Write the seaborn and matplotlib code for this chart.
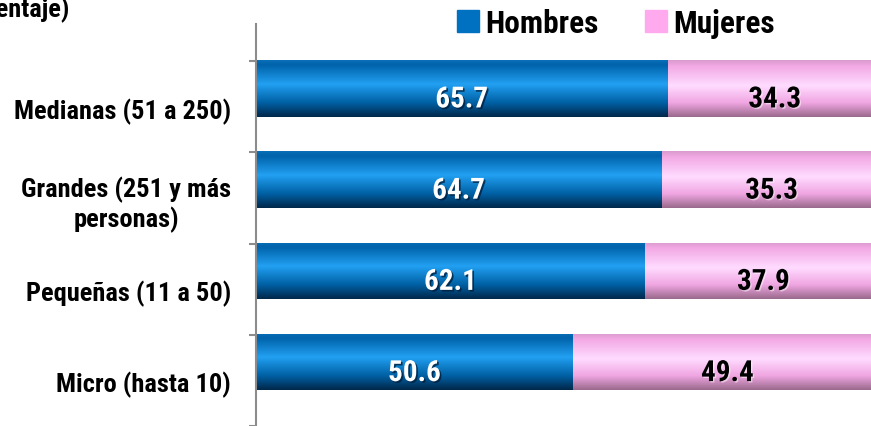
import numpy as np
import pandas as pd
import matplotlib
matplotlib.use("Agg")
import matplotlib.pyplot as plt
import matplotlib.patheffects as pe
from matplotlib.colors import LinearSegmentedColormap
from matplotlib.patches import Rectangle
import seaborn as sns

CATEGORIES = ["Medianas (51 a 250)", "Grandes (251 y más\npersonas)",
              "Pequeñas (11 a 50)", "Micro (hasta 10)"]
HOMBRES = [65.7, 64.7, 62.1, 50.6]
MUJERES = [34.3, 35.3, 37.9, 49.4]
SERIES = ["Hombres", "Mujeres"]

BLUE = "#0070C0"
PINK = "#FFAAEE"

sns.set_theme(style="white")
plt.rcParams["font.family"] = ["Roboto Condensed", "DejaVu Sans"]
plt.rcParams["text.color"] = "black"
plt.rcParams["ytick.color"] = "black"
plt.rcParams["ytick.labelcolor"] = "black"

df = pd.DataFrame({"cat": CATEGORIES, "h": HOMBRES, "m": MUJERES})
df["total"] = df["h"] + df["m"]

fig = plt.figure(figsize=(8.71, 4.27), dpi=100)
ax = fig.add_axes([256 / 871, 0, 615 / 871, 402 / 427])

# stacked: full length in pink, then men on top in blue
sns.barplot(data=df, y="cat", x="total", color=PINK, orient="h",
            width=0.62, saturation=1, ax=ax)
n_pink = len(ax.patches)
sns.barplot(data=df, y="cat", x="h", color=BLUE, orient="h",
            width=0.62, saturation=1, ax=ax)

# glossy gradient fill on each bar
blue_cm = LinearSegmentedColormap.from_list(
    "b", [(0, "#0a6fb8"), (0.08, "#0062aa"), (0.42, "#22a0f2"),
          (0.75, "#0060a4"), (1, "#00284a")])
pink_cm = LinearSegmentedColormap.from_list(
    "p", [(0, "#d99ccd"), (0.1, "#f2a8e4"), (0.45, "#ffdcff"),
          (0.75, "#f0a6e2"), (1, "#9a6a8c")])
grad = np.linspace(0, 1, 128).reshape(-1, 1)
for i, p in enumerate(ax.patches):
    x0, y0 = p.get_x(), p.get_y()
    w, hgt = p.get_width(), p.get_height()
    cm = pink_cm if i < n_pink else blue_cm
    im = ax.imshow(grad, cmap=cm, aspect="auto", origin="upper",
                   extent=[x0, x0 + w, y0 + hgt, y0], zorder=p.get_zorder() + 0.1 + i * 0.01)
    im.set_clip_path(p)

ax.set_xlim(0, 615 / 6.26)
ax.set_ylim(3.66, -0.707)

# value labels
for i, (hv, mv) in enumerate(zip(HOMBRES, MUJERES)):
    ax.text(hv / 2, i + 0.12, f"{hv:.1f}", ha="center", va="center",
            fontsize=21, fontweight="bold", color="white", zorder=10,
            path_effects=[pe.SimplePatchShadow(offset=(1.2, -1.2), shadow_rgbFace="#002040", alpha=0.8),
                          pe.Normal()])
    ax.text(hv + mv / 2, i + 0.12, f"{mv:.1f}", ha="center", va="center",
            fontsize=21, fontweight="bold", color="black", zorder=10,
            path_effects=[pe.SimplePatchShadow(offset=(1, -1), shadow_rgbFace="#ffffff", alpha=0.5),
                          pe.Normal()])

# axes styling
for s in ["top", "right", "bottom"]:
    ax.spines[s].set_visible(False)
ax.spines["left"].set_color("#8c8c8c")
ax.spines["left"].set_linewidth(1.5)
ax.set_xticks([])
ax.set_xlabel("")
ax.set_ylabel("")
ax.set_yticks([i + 0.21 for i in range(len(CATEGORIES))])
ax.set_yticklabels(CATEGORIES, fontsize=19, fontweight="bold", multialignment="center")
ax.tick_params(axis="y", which="major", length=0, pad=18)
ax.set_yticks([i - 0.3 for i in range(len(CATEGORIES) + 1)], minor=True)
ax.tick_params(axis="y", which="minor", left=True, length=5, width=1.5, color="#8c8c8c")

# legend
handles = [Rectangle((0, 0), 1, 1, color=BLUE), Rectangle((0, 0), 1, 1, color=PINK)]
fig.legend(handles, SERIES, loc="center", bbox_to_anchor=(616 / 871, 1 - 24 / 427),
           ncol=2, frameon=False, prop={"size": 22.5, "weight": "bold"},
           handlelength=0.7, handleheight=0.7, handletextpad=0.2, columnspacing=1.5)

# clipped title fragment at top left
fig.text(70 / 871, 1 - 17 / 427, "(porcentaje)", ha="right", va="baseline",
         fontsize=19, fontweight="bold")

fig.savefig("out.png", dpi=100)
